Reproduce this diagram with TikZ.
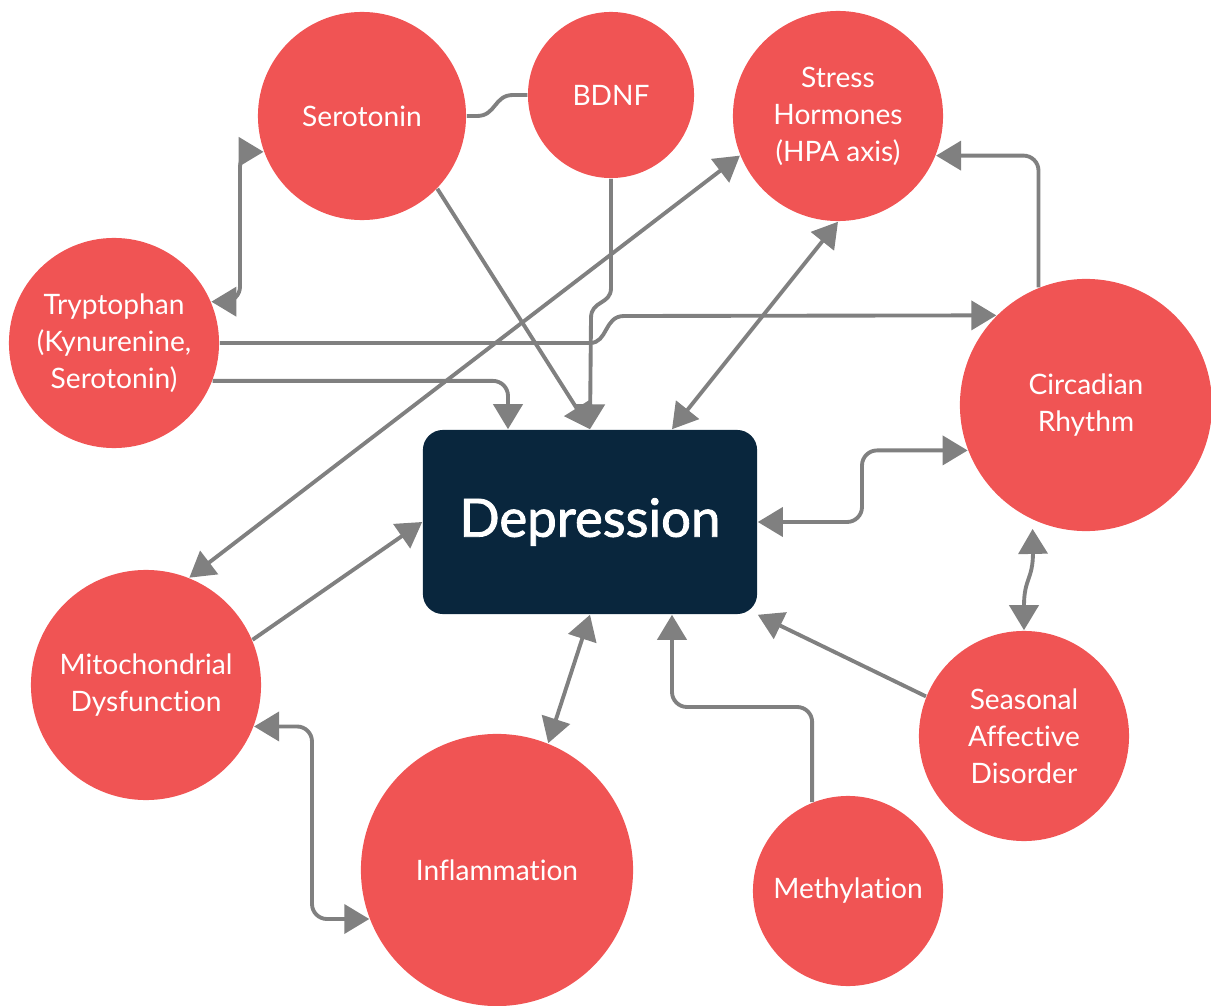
\documentclass[tikz,border=0pt]{standalone}
\usepackage{fontspec}
\setmainfont{Lato}[Ligatures=NoCommon]
\newfontfamily\depfont{Lato}[FakeBold=1.6]
\usetikzlibrary{arrows.meta,calc}
\definecolor{nodered}{RGB}{240,84,84}
\definecolor{depnavy}{RGB}{9,38,61}
\definecolor{linkgray}{RGB}{128,128,128}

\begin{document}
\begin{tikzpicture}[
    x=0.01cm, y=-0.01cm,
    >={Triangle[length=0.25cm,width=0.29cm]},
    factor/.style={
        circle,
        fill=nodered,
        text=white,
        inner sep=0pt,
        align=center,
        font=\fontsize{8}{10.5}\selectfont
    },
    link/.style={
        draw=linkgray,
        line width=1.1pt,
        rounded corners=0.15cm
    }
]
\useasboundingbox (0,0) rectangle (1211,1006);

\node[factor, minimum size=2.08cm] (sero) at (362,116) {Serotonin};
\node[factor, minimum size=1.66cm] (bdnf) at (611,95) {BDNF};
\node[factor, minimum size=2.10cm] (stress) at (838,116) {Stress\\Hormones\\(HPA axis)};
\node[factor, minimum size=2.10cm] (trp) at (114,343) {Tryptophan\\(Kynurenine,\\Serotonin)};
\node[factor, minimum size=2.52cm] (circ) at (1086,405) {Circadian\\Rhythm};
\node[factor, minimum size=2.30cm] (mito) at (146,685) {Mitochondrial\\Dysfunction};
\node[factor, minimum size=2.72cm] (infl) at (497,870) {Inflammation};
\node[factor, minimum size=1.90cm] (meth) at (848,891) {Methylation};
\node[factor, minimum size=2.10cm] (sad) at (1024,736) {Seasonal\\Affective\\Disorder};
\node[rectangle, rounded corners=0.2cm, fill=depnavy, text=white,
    minimum width=3.34cm, minimum height=1.84cm,
    font=\depfont\fontsize{15}{18}\selectfont] (dep) at (590,522) {Depression};

\coordinate (dtl) at ($(dep.north)+(-82,0)$);
\coordinate (dtr) at ($(dep.north)+(82,0)$);
\coordinate (dbr) at ($(dep.south)+(82,0)$);

\draw[link, sharp corners] (sero.east) -- (477,116) .. controls (496,116) and (494,95) .. (513,95) -- (bdnf.west);
\draw[link, <->] (trp.23) -| (240,220) |- (sero.200);
\draw[link, ->] (sero.-44) -- (dep.north);
\draw[link, ->, sharp corners] (bdnf.south) -- (611,288) .. controls (611,305) and (591,300) .. (591,318) -- (dep.north);
\draw[link, <->] (stress.202) -- (mito.68);
\draw[link, <->] (stress.south) -- (dtr);
\draw[link, ->] (circ.112) |- (stress.-22);
\draw[link, ->, sharp corners] (trp.east) -- (590,343) .. controls (608,343) and (604,316) .. (624,316) -- (circ.135);
\draw[link, ->] (trp.-21) -| (dtl);
\draw[link, <->] (dep.east) -| (862,480) |- (circ.201);
\draw[link, <->, sharp corners, shorten <=0.09cm] (circ.-115) -- (1033,552) .. controls (1033,580) and (1024,578) .. (1024,606) -- (sad.north);
\draw[link, ->] (sad.158) -- (dep.south east);
\draw[link, ->] (meth.112) |- (740,707) -| (dbr);
\draw[link, <->] (infl.68) -- (dep.south);
\draw[link, ->] (mito.23) -- (dep.west);
\draw[link, <->] (mito.-21) -| (312,800) |- (infl.201);
\end{tikzpicture}
\end{document}
